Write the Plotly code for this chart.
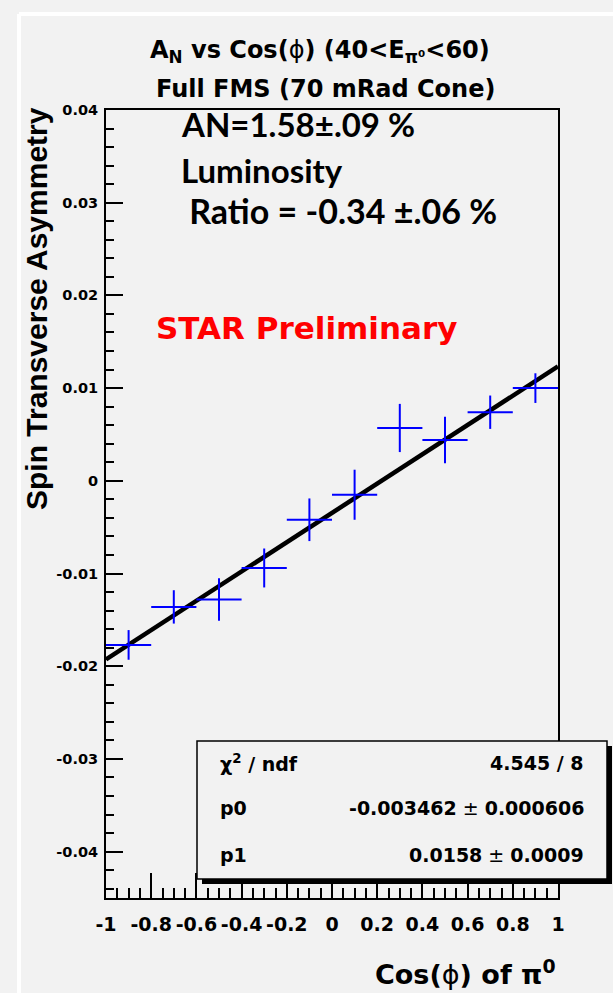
import plotly.graph_objects as go

# Asymmetry per cos(phi) bin (bin half-width 0.1)
cos_phi = [-0.9, -0.7, -0.5, -0.3, -0.1, 0.1, 0.3, 0.5, 0.7, 0.9]
asym = [-0.0177, -0.0136, -0.0128, -0.0094, -0.0042, -0.0015, 0.0057, 0.0044, 0.0074, 0.0100]
asym_err = [0.0016, 0.0018, 0.0023, 0.0021, 0.0023, 0.0027, 0.0026, 0.0025, 0.0018, 0.0016]
bin_half = 0.1

# Linear fit parameters: A = p0 + p1 * cos(phi)
p0, p0_err = -0.003462, 0.000606
p1, p1_err = 0.0158, 0.0009
chi2, ndf = 4.545, 8

x_tick_vals = [-1, -0.8, -0.6, -0.4, -0.2, 0, 0.2, 0.4, 0.6, 0.8, 1]
x_tick_text = ["-1", "-0.8", "-0.6", "-0.4", "-0.2", "0", "0.2", "0.4", "0.6", "0.8", "1"]
y_tick_vals = [-0.04, -0.03, -0.02, -0.01, 0, 0.01, 0.02, 0.03, 0.04]
y_tick_text = ["-0.04", "-0.03", "-0.02", "-0.01", "0", "0.01", "0.02", "0.03", "0.04"]

W, H = 613, 993
L, R, T, B = 106, 558, 110, 898
BG = "#f2f2f2"
ROOT_FONT = "DejaVu Sans"


def fx(p):
    return (p - L) / (R - L)


def fy(p):
    return (B - p) / (B - T)


fit_x = [min(cos_phi) - bin_half, max(cos_phi) + bin_half]
fit_y = [p0 + p1 * x for x in fit_x]

fig = go.Figure()

fig.add_trace(go.Scatter(
    x=fit_x, y=fit_y, mode="lines",
    line=dict(color="black", width=4.5),
    showlegend=False, hoverinfo="skip",
))

fig.add_trace(go.Scatter(
    x=cos_phi, y=asym, mode="markers",
    marker=dict(size=1, color="rgba(0,0,0,0)"),
    error_x=dict(type="constant", value=bin_half, color="#0000ff", thickness=2, width=0),
    error_y=dict(type="data", array=asym_err, color="#0000ff", thickness=2, width=0),
    showlegend=False,
))

tick_font = dict(family=ROOT_FONT, color="black", weight="bold")

fig.update_xaxes(
    range=[-1, 1], tickmode="array", tickvals=x_tick_vals, ticktext=x_tick_text,
    ticks="inside", ticklen=25, tickwidth=1.5, tickcolor="black",
    minor=dict(tickmode="linear", tick0=-1, dtick=0.05, ticks="inside",
               ticklen=10, tickwidth=1.5, tickcolor="black"),
    showline=True, linecolor="black", linewidth=2, mirror=True,
    showgrid=False, zeroline=False,
    tickfont=dict(size=19, **tick_font), ticklabelstandoff=8,
)
fig.update_yaxes(
    range=[-0.045, 0.04], tickmode="array", tickvals=y_tick_vals, ticktext=y_tick_text,
    ticks="inside", ticklen=17, tickwidth=1.5, tickcolor="black",
    minor=dict(tickmode="linear", tick0=0, dtick=0.002, ticks="inside",
               ticklen=8, tickwidth=1.5, tickcolor="black"),
    showline=True, linecolor="black", linewidth=2, mirror=True,
    showgrid=False, zeroline=False,
    tickfont=dict(size=14.5, **tick_font), ticklabelstandoff=3,
)

shapes = [
    # canvas edge highlight
    dict(type="line", xref="paper", yref="paper", x0=fx(19), x1=fx(W), y0=fy(14), y1=fy(14),
         line=dict(color="white", width=4), layer="below"),
    dict(type="line", xref="paper", yref="paper", x0=fx(19), x1=fx(19), y0=fy(14), y1=fy(H),
         line=dict(color="white", width=4), layer="below"),
    # fit statistics box with drop shadow
    dict(type="rect", xref="paper", yref="paper", x0=fx(202), x1=fx(612), y0=fy(746), y1=fy(884),
         fillcolor="black", line=dict(width=0), layer="above"),
    dict(type="rect", xref="paper", yref="paper", x0=fx(197), x1=fx(607), y0=fy(741), y1=fy(879),
         fillcolor=BG, line=dict(color="black", width=1.5), layer="above"),
]

ann = []


def text(x, y, s, size, family=ROOT_FONT, color="black", xanchor="left", **kw):
    ann.append(dict(x=fx(x), y=fy(y), xref="paper", yref="paper", text=s, showarrow=False,
                    xanchor=xanchor, yanchor="middle",
                    font=dict(family=family, size=size, color=color), **kw))


# title lines
text(320, 52, "<b>A<sub>N</sub> vs Cos(</b>ϕ<b>) (40&lt;E<sub>π⁰</sub>&lt;60)</b>", 24, xanchor="center")
text(325, 89, "<b>Full FMS (70 mRad Cone)</b>", 24, xanchor="center")

# axis titles
text(36, 309, "<b>Spin Transverse Asymmetry</b>", 30, family="Liberation Sans",
     xanchor="center", textangle=-90)
text(558, 972, "<b>Cos(</b>ϕ<b>) of π<sup>0</sup></b>", 27, xanchor="right")

# result summary
text(179, 124, "<b>AN=1.58±.09 %</b>", 33, family="Lato")
text(179, 170, "<b>Luminosity</b>", 33, family="Lato")
text(179, 211, "<b> Ratio = -0.34 ±.06 %</b>", 34, family="Lato")

text(154, 328, "<b>STAR Preliminary</b>", 31, color="#ff0000")

# fit statistics
text(218, 763, "<b>χ<sup>2</sup> / ndf</b>", 19)
text(586, 763, f"<b>{chi2:.3f} / {ndf}</b>", 19, xanchor="right")
text(218, 808, "<b>p0</b>", 19)
text(586, 808, f"<b>{p0:.6f}</b> ± <b>{p0_err:.6f}</b>", 19, xanchor="right")
text(218, 855, "<b>p1</b>", 19)
text(586, 855, f"<b>{p1:.4f}</b> ± <b>{p1_err:.4f}</b>", 19, xanchor="right")

fig.update_layout(
    width=W, height=H, autosize=False,
    margin=dict(l=L, r=W - R, t=T, b=H - B),
    paper_bgcolor=BG, plot_bgcolor=BG,
    shapes=shapes, annotations=ann,
    showlegend=False,
)

fig.write_html("out.html")
